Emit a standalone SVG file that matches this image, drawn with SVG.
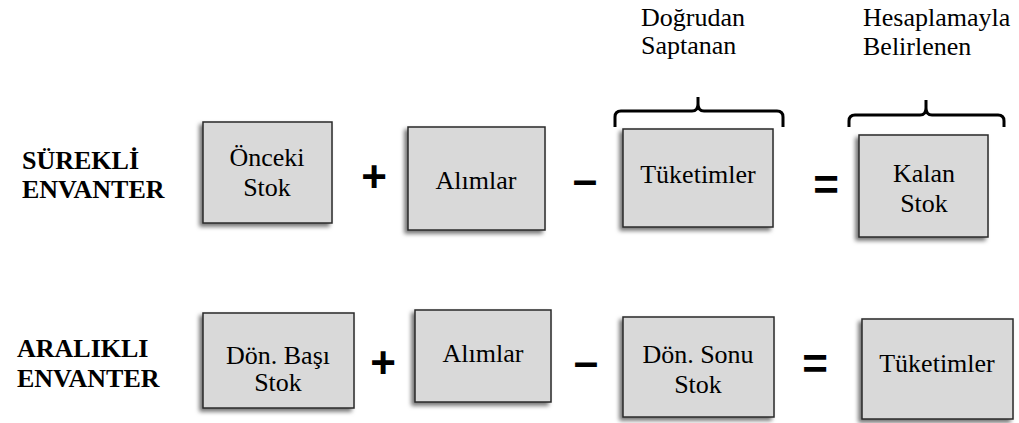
<svg xmlns="http://www.w3.org/2000/svg" width="1019" height="423" viewBox="0 0 1019 423">
  <defs>
    <filter id="shadow" x="-20%" y="-20%" width="140%" height="140%">
      <feDropShadow dx="-3" dy="3" stdDeviation="2.2" flood-color="#000" flood-opacity="0.55"/>
    </filter>
  </defs>
  <style>
    .box { fill: #d9d9d9; stroke: #2a2a2a; stroke-width: 1.5; filter: url(#shadow); }
    .txt { font-family: 'Liberation Serif', 'DejaVu Serif', serif; font-size: 26px; fill: #000; }
    .mid { text-anchor: middle; }
    .lbl { font-family: 'Liberation Serif', 'DejaVu Serif', serif; font-size: 26px; font-weight: bold; fill: #000; }
    .op { font-family: 'Liberation Sans', Arial, sans-serif; font-weight: bold; font-size: 44px; text-anchor: middle; fill: #000; }
    .brace { fill: none; stroke: #000; stroke-width: 3; stroke-linecap: butt; stroke-linejoin: round; }
  </style>

  <rect width="1019" height="423" fill="#fff"/>

  <!-- row titles -->
  <g id="label-surekli">
    <text class="lbl" x="22" y="169" font-family="Liberation Serif, DejaVu Serif, serif">SÜREKLİ</text>
    <text class="lbl" x="22" y="198" font-family="Liberation Serif, DejaVu Serif, serif">ENVANTER</text>
  </g>
  <g id="label-aralikli">
    <text class="lbl" x="17" y="357">ARALIKLI</text>
    <text class="lbl" x="17" y="387">ENVANTER</text>
  </g>

  <!-- captions above the braces -->
  <g id="caption-dogrudan">
    <text class="txt" x="641" y="26">Doğrudan</text>
    <text class="txt" x="641" y="54">Saptanan</text>
  </g>
  <g id="caption-hesaplama">
    <text class="txt" x="863" y="26">Hesaplamayla</text>
    <text class="txt" x="863" y="55">Belirlenen</text>
  </g>

  <!-- braces and operators -->
  <g id="connectors">
    <path class="brace" d="M615,127 V117 Q615,111 621,111 H692 Q698,111 698,104 V97 M698,104 Q698,111 704,111 H777 Q783,111 783,117 V127"/>
    <path class="brace" d="M849,127 V121 Q849,115 855,115 H920 Q926,115 926,108 V100 M926,108 Q926,115 932,115 H998 Q1004,115 1004,121 V127"/>

    <text class="op" x="374" y="192">+</text>
    <text class="op" x="585" y="195">–</text>
    <text class="op" x="826" y="200">=</text>

    <text class="op" x="383" y="378">+</text>
    <text class="op" x="586" y="377">–</text>
    <text class="op" x="815" y="379">=</text>
  </g>

  <!-- row 1: perpetual inventory -->
  <g id="onceki-stok">
    <rect class="box" x="203" y="122" width="129" height="101"/>
    <text class="txt mid" x="267" y="166">Önceki</text>
    <text class="txt mid" x="267" y="196">Stok</text>
  </g>
  <g id="alimlar-1">
    <rect class="box" x="408" y="127" width="137" height="103"/>
    <text class="txt mid" x="476" y="189">Alımlar</text>
  </g>
  <g id="tuketimler-1">
    <rect class="box" x="623" y="129" width="150" height="98"/>
    <text class="txt mid" x="698" y="183">Tüketimler</text>
  </g>
  <g id="kalan-stok">
    <rect class="box" x="859" y="135" width="129" height="102"/>
    <text class="txt mid" x="924" y="182">Kalan</text>
    <text class="txt mid" x="924" y="212">Stok</text>
  </g>

  <!-- row 2: periodic inventory -->
  <g id="don-basi-stok">
    <rect class="box" x="203" y="313" width="151" height="95"/>
    <text class="txt mid" x="278" y="364">Dön. Başı</text>
    <text class="txt mid" x="278" y="391">Stok</text>
  </g>
  <g id="alimlar-2">
    <rect class="box" x="415" y="310" width="136" height="92"/>
    <text class="txt mid" x="483" y="362">Alımlar</text>
  </g>
  <g id="don-sonu-stok">
    <rect class="box" x="623" y="317" width="151" height="100"/>
    <text class="txt mid" x="698" y="363">Dön. Sonu</text>
    <text class="txt mid" x="698" y="393">Stok</text>
  </g>
  <g id="tuketimler-2">
    <rect class="box" x="862" y="319" width="151" height="100"/>
    <text class="txt mid" x="937" y="372">Tüketimler</text>
  </g>
</svg>
